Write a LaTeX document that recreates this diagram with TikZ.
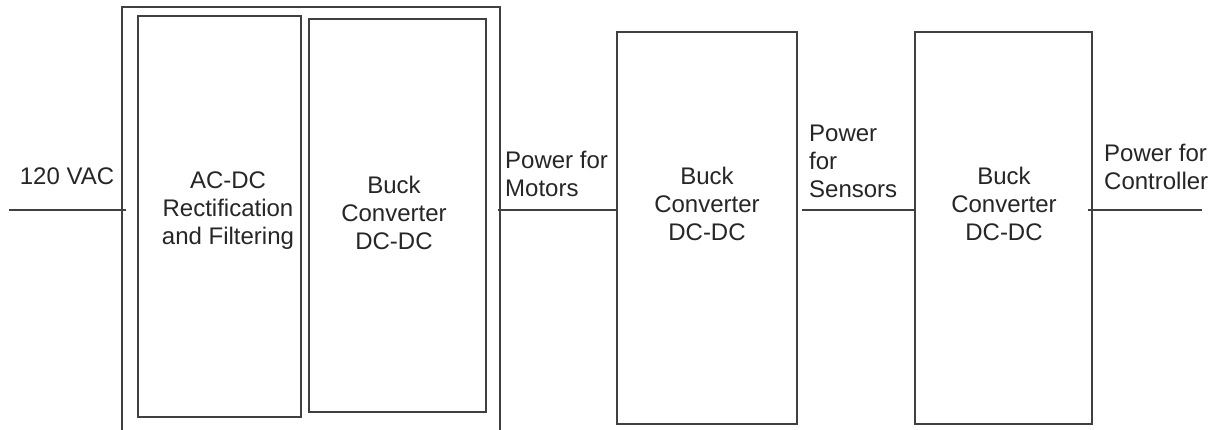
\documentclass[tikz,border=0pt]{standalone}
\usepackage{fontspec}
\setmainfont{Liberation Sans}
\begin{document}
\begin{tikzpicture}[x=1pt,y=-1pt,
  blk/.style={draw=linec, line width=1.3pt, rectangle, inner sep=0pt},
  txt/.style={align=center, inner sep=0pt, font=\fontsize{24}{28}\selectfont, text=black!85},
  lbl/.style={align=left, anchor=west, inner sep=0pt, font=\fontsize{24}{28}\selectfont, text=black!85},
  wire/.style={draw=linec, line width=1.3pt}]
\definecolor{linec}{HTML}{404040}
\useasboundingbox (0,0) rectangle (1211,430);
\fill[white] (0,0) rectangle (1211,430);
% blocks
\node[blk, minimum width=378pt, minimum height=440pt] (outer) at (311,227) {};
\node[blk, minimum width=163pt, minimum height=401pt] (acdc) at (219.5,216.5) {};
\node[blk, minimum width=177pt, minimum height=393pt] (buck1) at (397.5,215.5) {};
\node[blk, minimum width=180pt, minimum height=392pt] (buck2) at (707,228) {};
\node[blk, minimum width=177pt, minimum height=392pt] (buck3) at (1003.5,228) {};
% block texts
\node[txt] (tacdc) at (228,211) {AC-DC\\Rectification\\and Filtering};
\node[txt] (tbuck1) at (394,213) {Buck\\Converter\\DC-DC};
\node[txt] (tbuck2) at (707,204) {Buck\\Converter\\DC-DC};
\node[txt] (tbuck3) at (1004,204) {Buck\\Converter\\DC-DC};
% connectors
\coordinate (vin) at (9,210);
\coordinate (vout) at (1202,210);
\draw[wire] (vin) -- ([xshift=5pt]vin -| outer.west);
\draw[wire] ([xshift=-3pt]vin -| outer.east) -- (vin -| buck2.west);
\draw[wire] ([xshift=4pt]vin -| buck2.east) -- (vin -| buck3.west);
\draw[wire] ([xshift=-5pt]vin -| buck3.east) -- (vout);
% labels
\node[lbl, anchor=center] (l120) at (67,176) {120 VAC};
\node[lbl] (lmot) at (505,174) {Power for\\Motors};
\node[lbl] (lsen) at (809,161) {Power\\for\\Sensors};
\node[lbl] (lctl) at (1104,167) {Power for\\Controller};
\end{tikzpicture}
\end{document}
